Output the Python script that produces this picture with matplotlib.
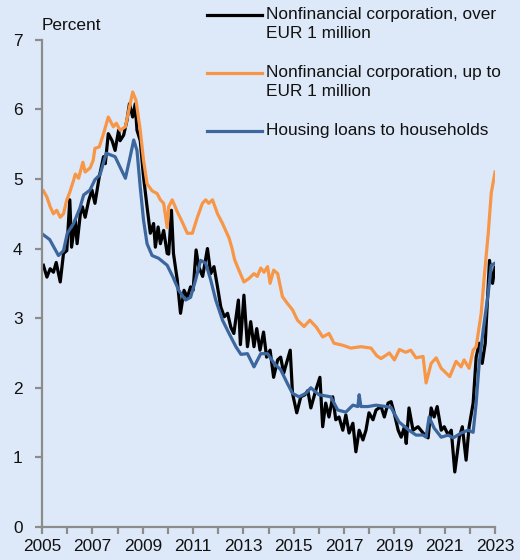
import numpy as np
import matplotlib.pyplot as plt
from matplotlib.lines import Line2D

plt.rcParams['font.family'] = ['Liberation Sans', 'DejaVu Sans']

# Nonfinancial corporation, over EUR 1 million (black)
t_over = [2005.05, 2005.19, 2005.32, 2005.45, 2005.56, 2005.72, 2005.85, 2005.98, 2006.1, 2006.17,
          2006.32, 2006.39, 2006.52, 2006.6, 2006.71, 2006.85, 2006.98, 2007.1, 2007.27, 2007.44,
          2007.51, 2007.63, 2007.78, 2007.9, 2008.04, 2008.1, 2008.24, 2008.37, 2008.47, 2008.6,
          2008.7, 2008.77, 2008.9, 2009.03, 2009.17, 2009.3, 2009.43, 2009.5, 2009.61, 2009.7,
          2009.83, 2009.97, 2010.03, 2010.14, 2010.22, 2010.37, 2010.5, 2010.64, 2010.77, 2010.9,
          2011.0, 2011.12, 2011.22, 2011.38, 2011.57, 2011.7, 2011.83, 2011.97, 2012.1, 2012.24,
          2012.37, 2012.5, 2012.62, 2012.8, 2012.88, 2013.02, 2013.16, 2013.29, 2013.42, 2013.53,
          2013.66, 2013.8, 2013.92, 2014.06, 2014.2, 2014.36, 2014.48, 2014.6, 2014.86, 2014.95,
          2015.12, 2015.28, 2015.45, 2015.56, 2015.68, 2015.88, 2016.04, 2016.15, 2016.27, 2016.4,
          2016.55, 2016.67, 2016.8, 2016.95, 2017.07, 2017.2, 2017.35, 2017.47, 2017.6, 2017.75,
          2017.87, 2017.99, 2018.15, 2018.27, 2018.47, 2018.6, 2018.75, 2018.87, 2018.99, 2019.15,
          2019.27, 2019.4, 2019.47, 2019.58, 2019.74, 2019.94, 2020.14, 2020.34, 2020.46, 2020.58,
          2020.7, 2020.86, 2020.98, 2021.14, 2021.26, 2021.4, 2021.58, 2021.7, 2021.85, 2021.97,
          2022.13, 2022.25, 2022.37, 2022.49, 2022.61, 2022.73, 2022.78, 2022.9, 2023.0]
v_over = [3.76, 3.59, 3.71, 3.66, 3.80, 3.52, 3.93, 3.97, 4.70, 4.02,
          4.41, 4.07, 4.50, 4.60, 4.45, 4.69, 4.84, 4.65, 5.03, 5.32,
          5.22, 5.65, 5.55, 5.41, 5.70, 5.55, 5.63, 5.84, 6.08, 5.89,
          6.08, 5.70, 5.55, 5.03, 4.60, 4.22, 4.36, 4.02, 4.31, 4.07,
          4.26, 3.93, 3.92, 4.55, 3.93, 3.55, 3.07, 3.40, 3.30, 3.45,
          3.40, 3.98, 3.74, 3.60, 4.00, 3.64, 3.74, 3.45, 3.16, 3.02,
          3.07, 2.87, 2.78, 3.26, 2.62, 3.33, 2.59, 2.95, 2.59, 2.85,
          2.54, 2.80, 2.44, 2.54, 2.15, 2.40, 2.44, 2.21, 2.54, 1.92,
          1.64, 1.87, 1.90, 1.96, 1.71, 1.97, 2.15, 1.44, 1.78, 1.58,
          1.87, 1.54, 1.58, 1.39, 1.61, 1.35, 1.49, 1.08, 1.39, 1.25,
          1.39, 1.64, 1.54, 1.68, 1.73, 1.58, 1.78, 1.80, 1.64, 1.39,
          1.29, 1.44, 1.20, 1.71, 1.39, 1.44, 1.35, 1.28, 1.71, 1.58,
          1.73, 1.39, 1.44, 1.32, 1.39, 0.79, 1.29, 1.44, 0.96, 1.44,
          1.78, 2.44, 2.64, 2.35, 2.64, 3.50, 3.83, 3.50, 3.73]

# Nonfinancial corporation, up to EUR 1 million (orange)
t_upto = [2005.05, 2005.19, 2005.32, 2005.45, 2005.58, 2005.72, 2005.85, 2005.98, 2006.1, 2006.25,
          2006.32, 2006.45, 2006.62, 2006.71, 2006.91, 2007.03, 2007.1, 2007.27, 2007.44, 2007.63,
          2007.83, 2007.95, 2008.1, 2008.31, 2008.47, 2008.6, 2008.73, 2008.9, 2009.03, 2009.17,
          2009.37, 2009.57, 2009.7, 2009.83, 2009.97, 2010.03, 2010.17, 2010.37, 2010.57, 2010.77,
          2010.97, 2011.17, 2011.37, 2011.5, 2011.62, 2011.77, 2011.97, 2012.17, 2012.43, 2012.55,
          2012.65, 2012.82, 2013.02, 2013.22, 2013.42, 2013.55, 2013.69, 2013.82, 2013.96, 2014.06,
          2014.2, 2014.36, 2014.55, 2014.75, 2014.95, 2015.15, 2015.41, 2015.64, 2015.9, 2016.15,
          2016.4, 2016.6, 2016.95, 2017.27, 2017.67, 2018.07, 2018.3, 2018.47, 2018.8, 2019.0,
          2019.2, 2019.45, 2019.65, 2019.86, 2020.14, 2020.26, 2020.46, 2020.66, 2020.86, 2021.2,
          2021.45, 2021.65, 2021.77, 2021.97, 2022.13, 2022.25, 2022.45, 2022.57, 2022.73, 2022.85,
          2023.0]
v_upto = [4.83, 4.74, 4.60, 4.50, 4.55, 4.45, 4.50, 4.70, 4.81, 4.98,
          5.07, 5.01, 5.24, 5.10, 5.16, 5.27, 5.44, 5.46, 5.65, 5.89,
          5.75, 5.80, 5.70, 5.75, 6.03, 6.25, 6.13, 5.70, 5.27, 4.93,
          4.83, 4.79, 4.70, 4.65, 4.30, 4.60, 4.70, 4.53, 4.38, 4.22,
          4.22, 4.45, 4.65, 4.70, 4.65, 4.70, 4.50, 4.36, 4.15, 4.00,
          3.84, 3.69, 3.52, 3.57, 3.64, 3.60, 3.72, 3.66, 3.74, 3.50,
          3.69, 3.64, 3.31, 3.21, 3.12, 2.97, 2.88, 2.97, 2.87, 2.73,
          2.78, 2.64, 2.61, 2.57, 2.59, 2.57, 2.46, 2.42, 2.50, 2.40,
          2.55, 2.51, 2.54, 2.43, 2.45, 2.07, 2.35, 2.43, 2.28, 2.16,
          2.38, 2.30, 2.40, 2.28, 2.54, 2.59, 3.07, 3.59, 4.22, 4.80,
          5.10]

# Housing loans to households (blue)
t_house = [2005.04, 2005.3, 2005.65, 2005.85, 2006.0, 2006.25, 2006.5, 2006.65, 2006.9, 2007.1,
           2007.3, 2007.55, 2007.9, 2008.31, 2008.5, 2008.64, 2008.77, 2008.9, 2009.03, 2009.17,
           2009.37, 2009.63, 2009.97, 2010.2, 2010.43, 2010.7, 2010.9, 2011.1, 2011.3, 2011.5,
           2011.7, 2011.9, 2012.17, 2012.43, 2012.7, 2012.9, 2013.16, 2013.42, 2013.69, 2013.96,
           2014.22, 2014.48, 2014.75, 2014.95, 2015.21, 2015.48, 2015.68, 2016.0, 2016.47, 2016.75,
           2017.07, 2017.35, 2017.55, 2017.6, 2017.67, 2017.95, 2018.27, 2018.67, 2018.86, 2019.18,
           2019.58, 2019.86, 2020.14, 2020.26, 2020.38, 2020.58, 2020.86, 2021.14, 2021.34, 2021.65,
           2021.93, 2022.13, 2022.25, 2022.37, 2022.53, 2022.73, 2022.85, 2023.0]
v_house = [4.20, 4.13, 3.90, 3.97, 4.22, 4.36, 4.58, 4.77, 4.84, 4.99,
           5.06, 5.37, 5.32, 5.01, 5.32, 5.56, 5.41, 4.88, 4.41, 4.07,
           3.90, 3.86, 3.76, 3.59, 3.40, 3.26, 3.30, 3.55, 3.83, 3.79,
           3.55, 3.26, 2.97, 2.78, 2.59, 2.48, 2.49, 2.30, 2.49, 2.49,
           2.35, 2.26, 2.06, 1.92, 1.87, 1.92, 2.00, 1.90, 1.87, 1.68,
           1.65, 1.75, 1.73, 1.90, 1.73, 1.73, 1.75, 1.73, 1.72, 1.51,
           1.39, 1.32, 1.32, 1.29, 1.58, 1.42, 1.29, 1.32, 1.28, 1.35,
           1.39, 1.36, 1.78, 2.35, 2.83, 3.36, 3.76, 3.79]

labels = ["Nonfinancial corporation, over\nEUR 1 million",
          "Nonfinancial corporation, up to\nEUR 1 million",
          "Housing loans to households"]
colors = ["#000000", "#F79646", "#3C679E"]
years_major = np.arange(2005, 2024, 2)
years_minor = np.arange(2005, 2024, 1)
y_ticks = np.arange(0, 8, 1)

bg = "#DDE9F8"
grey = "#8C8C8C"
fs = 12.4

fig = plt.figure(figsize=(5.2, 5.6), dpi=100, facecolor=bg)
ax = fig.add_axes([0.081, 0.059, 0.871, 0.870], facecolor=bg)

series = [(t_over, v_over), (t_upto, v_upto), (t_house, v_house)]
for (t, v), c in zip(series, colors):
    ax.plot(t, v, color=c, lw=2.3, solid_joinstyle='round')

ax.set_xlim(2005, 2023)
ax.set_ylim(0, 7)
ax.set_xticks(years_major)
ax.set_xticks(years_minor, minor=True)
ax.set_yticks(y_ticks)
for s in ['top', 'right']:
    ax.spines[s].set_visible(False)
for s in ['left', 'bottom']:
    ax.spines[s].set_color(grey)
    ax.spines[s].set_linewidth(1.6)
ax.tick_params(which='both', direction='out', color=grey, width=1.6, length=5,
               labelsize=fs, labelcolor='#111111')
ax.tick_params(axis='y', pad=9)
ax.tick_params(axis='x', pad=4)

fig.text(0.081, 0.955, "Percent", fontsize=fs, ha='left', va='center', color='#111111')

# legend drawn in figure pixels
leg_y = [15, 73, 131]
for lab, c, yy in zip(labels, colors, leg_y):
    yf = 1 - yy / 560
    fig.add_artist(Line2D([207 / 520, 262 / 520], [yf, yf], color=c, lw=2.3))
    fig.text(266 / 520, 1 - (yy - 8) / 560, lab, fontsize=fs, ha='left', va='top',
             linespacing=1.36, color='#111111')

fig.savefig("out.png", dpi=100, facecolor=bg)
